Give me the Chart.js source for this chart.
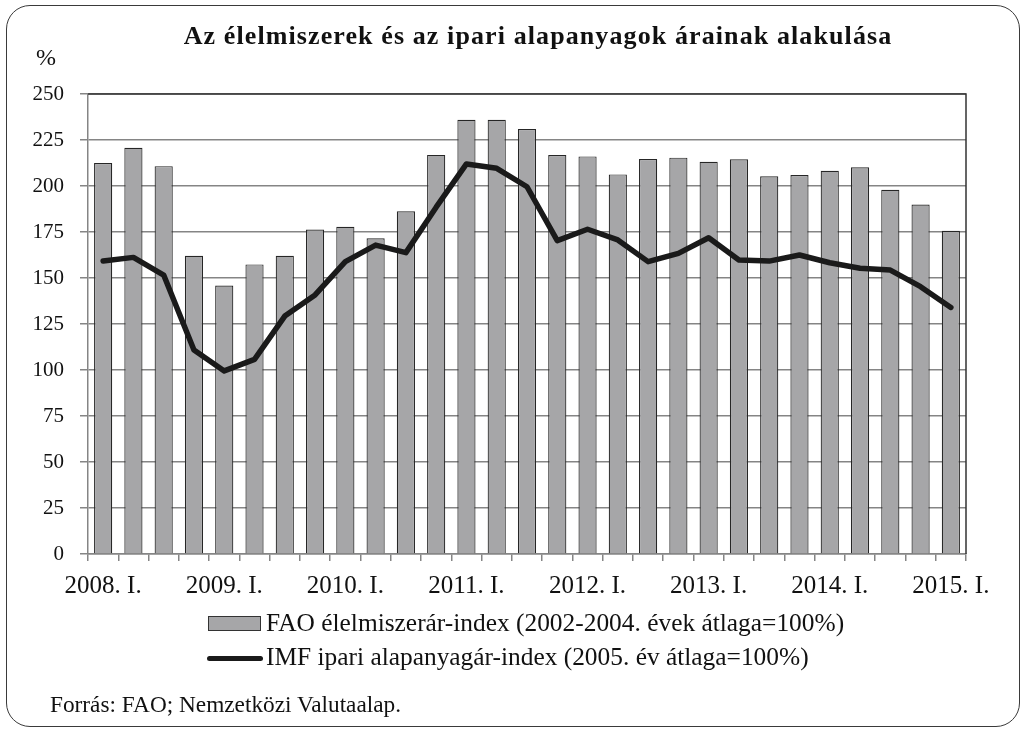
<!DOCTYPE html>
<html>
<head>
<meta charset="utf-8">
<script src="https://cdn.jsdelivr.net/npm/chart.js@4.4.1/dist/chart.umd.min.js"></script>
<style>
  html, body { margin: 0; padding: 0; background: #fff; overflow: hidden; }
  body { width: 1029px; height: 731px; position: relative; font-family: "Liberation Serif", "Times New Roman", serif; color: #111; }
  #frame { position: absolute; left: 6px; top: 5px; width: 1014px; height: 722px; border: 1.5px solid #3a3a3a; border-radius: 24px; box-sizing: border-box; }
  canvas { position: absolute; left: 0; top: 0; }
  .t { position: absolute; line-height: 1; white-space: nowrap; }
  #title { left: 38px; width: 1000px; text-align: center; top: 23px; font-size: 26px; font-weight: bold; letter-spacing: 1.1px; }
  #pct { left: 36px; top: 45px; font-size: 24px; }
  .leg { left: 266px; font-size: 25.4px; }
  #sw1 { position: absolute; left: 208px; top: 616px; width: 53px; height: 15px; background: #a6a6a8; border: 1px solid #333; box-sizing: border-box; }
  #sw2 { position: absolute; left: 207px; top: 656px; width: 56px; height: 5px; background: #1a1a1a; border-radius: 3px; }
  #src { left: 50px; top: 693px; font-size: 23.3px; }
</style>
</head>
<body>
<div id="frame"></div>
<canvas id="c" width="1029" height="731"></canvas>
<div class="t" id="title">Az élelmiszerek és az ipari alapanyagok árainak alakulása</div>
<div class="t" id="pct">%</div>
<div id="sw1"></div>
<div class="t leg" style="top:610px">FAO élelmiszerár-index (2002-2004. évek átlaga=100%)</div>
<div id="sw2"></div>
<div class="t leg" style="top:644px">IMF ipari alapanyagár-index (2005. év átlaga=100%)</div>
<div class="t" id="src">Forrás: FAO; Nemzetközi Valutaalap.</div>
<script>
// ---- data ----
const categories = [
  "2008. I.", "2008. II.", "2008. III.", "2008. IV.",
  "2009. I.", "2009. II.", "2009. III.", "2009. IV.",
  "2010. I.", "2010. II.", "2010. III.", "2010. IV.",
  "2011. I.", "2011. II.", "2011. III.", "2011. IV.",
  "2012. I.", "2012. II.", "2012. III.", "2012. IV.",
  "2013. I.", "2013. II.", "2013. III.", "2013. IV.",
  "2014. I.", "2014. II.", "2014. III.", "2014. IV.",
  "2015. I."
];
const foodIndex = [
  212.5, 220.8, 210.8, 162.1,
  145.9, 157.4, 162.1, 176.3,
  177.8, 171.6, 186.3, 216.9,
  236.0, 236.0, 231.0, 216.8,
  216.1, 206.3, 214.7, 215.4,
  213.2, 214.5, 205.3, 206.0,
  208.3, 210.2, 198.0, 189.9,
  175.7
];
const imfIndex = [
  159.2, 161.2, 151.6, 110.9,
  99.5, 105.8, 129.3, 140.8,
  158.9, 167.9, 163.8, 188.5,
  212.0, 209.6, 199.6, 170.3,
  176.5, 170.7, 158.9, 163.4,
  171.9, 159.8, 159.2, 162.5,
  158.3, 155.3, 154.3, 145.3,
  134.0
];
const yMin = 0, yMax = 250, yStep = 25;

const GRID = '#858585';
const DARK = '#333333';

const framePlugin = {
  id: 'frameLines',
  afterDraw(chart) {
    const a = chart.chartArea, ctx = chart.ctx;
    ctx.save();
    ctx.strokeStyle = DARK;
    ctx.lineWidth = 1.5;
    ctx.beginPath();
    ctx.moveTo(a.left, a.top);
    ctx.lineTo(a.right, a.top);
    ctx.lineTo(a.right, a.bottom);
    ctx.stroke();
    ctx.restore();
  }
};

new Chart(document.getElementById('c'), {
  data: {
    labels: categories,
    datasets: [
      {
        type: 'line',
        label: 'IMF ipari alapanyagár-index (2005. év átlaga=100%)',
        data: imfIndex,
        borderColor: '#1a1a1a',
        borderWidth: 5.5,
        pointRadius: 0,
        tension: 0,
        borderCapStyle: 'round',
        borderJoinStyle: 'round',
        order: 0
      },
      {
        type: 'bar',
        label: 'FAO élelmiszerár-index (2002-2004. évek átlaga=100%)',
        data: foodIndex,
        backgroundColor: '#a6a6a8',
        borderColor: '#262626',
        borderWidth: 1.2,
        barPercentage: 0.6,
        categoryPercentage: 1.0,
        order: 1
      }
    ]
  },
  options: {
    responsive: false,
    animation: false,
    events: [],
    layout: { padding: { top: 94, right: 63, bottom: 127, left: 0 } },
    plugins: { legend: { display: false }, title: { display: false }, tooltip: { enabled: false } },
    scales: {
      x: {
        type: 'category',
        offset: true,
        grid: { display: true, drawOnChartArea: false, drawTicks: true, tickLength: 7, offset: true, color: GRID, lineWidth: 1.5 },
        border: { display: true, color: GRID, width: 1.5 },
        ticks: {
          autoSkip: false, maxRotation: 0, minRotation: 0, padding: 10,
          color: '#111',
          font: { family: '"Liberation Serif", serif', size: 25 },
          callback: function (value, index) {
            const lab = categories[index];
            return lab.endsWith(' I.') ? lab : '';
          }
        },
        afterFit(scale) { scale.height = 50; }
      },
      y: {
        min: yMin, max: yMax,
        grid: { color: GRID, lineWidth: 1.5, drawTicks: true, tickLength: 8 },
        border: { display: true, color: GRID, width: 1.5 },
        ticks: {
          stepSize: yStep, padding: 16, color: '#111',
          font: { family: '"Liberation Serif", serif', size: 21 }
        },
        afterFit(scale) { scale.width = 88; }
      }
    }
  },
  plugins: [framePlugin]
});
</script>
</body>
</html>
